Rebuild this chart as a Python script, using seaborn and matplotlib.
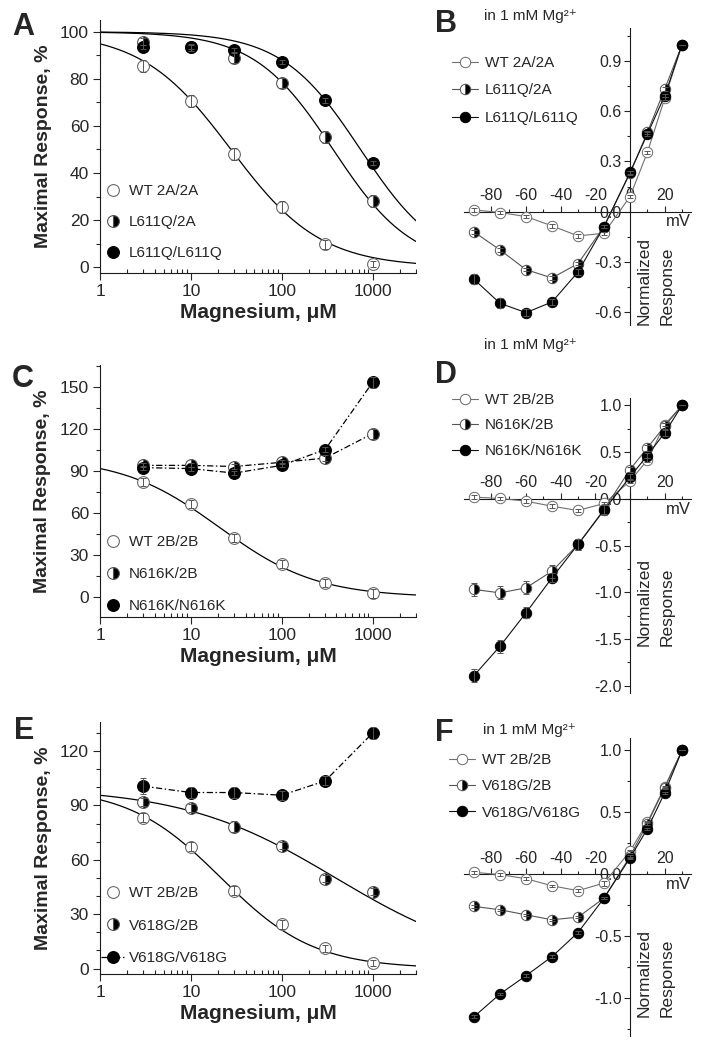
import numpy as np
import matplotlib
matplotlib.use("Agg")
import matplotlib.pyplot as plt
from matplotlib.ticker import MultipleLocator, LogLocator, NullFormatter, FormatStrFormatter
import seaborn as sns

# ---- values ----
mg_conc = [3, 10, 30, 100, 300, 1000]                     # Magnesium, uM
volt = [-90, -75, -60, -45, -30, -15, 0, 10, 20, 30]      # mV

# A: Mg block, GluN2A
a_labels = ["WT 2A/2A", "L611Q/2A", "L611Q/L611Q"]
a_wt = [85.4, 70.5, 48.2, 25.7, 9.7, 1.2]
a_het = [95.7, 93.5, 88.8, 78.3, 55.3, 28.0]
a_hom = [93.5, 93.5, 92.2, 87.2, 70.9, 44.3]
a_wt_err = [2.5, 2.5, 2.5, 2.5, 2.0, 1.2]
a_het_err = [1.5, 1.5, 2.0, 2.0, 2.5, 2.5]
a_hom_err = [1.0, 1.0, 1.0, 1.0, 1.0, 1.0]
a_ic50 = [27.6, 367, 735]
a_nh = [0.88, 1.0, 1.0]

# B: I-V in 1 mM Mg
b_wt = [0.01, -0.006, -0.03, -0.086, -0.146, -0.13, 0.09, 0.354, 0.678, 1.0]
b_het = [-0.122, -0.23, -0.348, -0.398, -0.312, -0.09, 0.23, 0.474, 0.734, 1.0]
b_hom = [-0.406, -0.55, -0.606, -0.542, -0.362, -0.09, 0.234, 0.464, 0.694, 1.0]
b_wt_err = [0.01, 0.01, 0.01, 0.01, 0.01, 0.01, 0.01, 0.01, 0.01, 0.0]
b_het_err = [0.01, 0.01, 0.01, 0.01, 0.01, 0.01, 0.01, 0.01, 0.01, 0.0]
b_hom_err = [0.03, 0.03, 0.02, 0.02, 0.02, 0.01, 0.01, 0.01, 0.01, 0.0]

# C: Mg block, GluN2B / N616K
c_labels = ["WT 2B/2B", "N616K/2B", "N616K/N616K"]
c_wt = [82.4, 66.9, 42.5, 23.9, 10.3, 2.9]
c_het = [94.3, 94.3, 93.5, 96.5, 99.5, 117.0]
c_hom = [92.7, 92.0, 88.8, 94.3, 105.6, 153.6]
c_wt_err = [3.0, 3.0, 3.0, 3.0, 3.0, 3.0]
c_het_err = [1.5, 1.5, 1.5, 1.5, 2.0, 3.5]
c_hom_err = [1.5, 1.5, 1.5, 1.5, 2.0, 4.0]
c_ic50 = [20.6]
c_nh = [0.81]

# D: I-V in 1 mM Mg
d_wt = [0.018, 0.004, -0.025, -0.079, -0.125, -0.05, 0.19, 0.414, 0.796, 1.0]
d_het = [-0.971, -1.007, -0.954, -0.775, -0.489, -0.114, 0.314, 0.546, 0.779, 1.0]
d_hom = [-1.893, -1.579, -1.221, -0.846, -0.489, -0.121, 0.236, 0.464, 0.707, 1.0]
d_wt_err = [0.02, 0.02, 0.02, 0.02, 0.02, 0.02, 0.02, 0.02, 0.02, 0.0]
d_het_err = [0.07, 0.07, 0.07, 0.07, 0.06, 0.05, 0.03, 0.03, 0.03, 0.0]
d_hom_err = [0.07, 0.07, 0.06, 0.05, 0.06, 0.05, 0.03, 0.03, 0.03, 0.0]

# E: Mg block, GluN2B / V618G
e_labels = ["WT 2B/2B", "V618G/2B", "V618G/V618G"]
e_wt = [83.3, 67.2, 42.9, 24.4, 11.2, 3.1]
e_het = [91.9, 88.6, 78.2, 67.7, 49.5, 42.4]
e_hom = [100.6, 97.1, 97.1, 95.6, 103.5, 129.9]
e_wt_err = [2.5, 2.5, 2.5, 2.5, 2.0, 1.5]
e_het_err = [2.0, 2.0, 3.0, 2.0, 2.0, 2.0]
e_hom_err = [4.5, 3.0, 3.0, 2.5, 2.5, 3.5]
e_ic50 = [21.5, 392]
e_nh = [0.85, 0.515]

# F: I-V in 1 mM Mg
f_wt = [0.014, -0.005, -0.038, -0.095, -0.135, -0.073, 0.184, 0.419, 0.705, 1.0]
f_het = [-0.262, -0.289, -0.33, -0.37, -0.349, -0.195, 0.143, 0.408, 0.697, 1.0]
f_hom = [-1.154, -0.97, -0.822, -0.668, -0.473, -0.195, 0.13, 0.365, 0.657, 1.0]
f_wt_err = [0.01, 0.01, 0.01, 0.01, 0.01, 0.02, 0.01, 0.01, 0.01, 0.0]
f_het_err = [0.01, 0.01, 0.01, 0.01, 0.01, 0.01, 0.01, 0.01, 0.01, 0.0]
f_hom_err = [0.01, 0.01, 0.01, 0.01, 0.01, 0.01, 0.01, 0.01, 0.01, 0.0]

# ---- style ----
sns.set_style("ticks")
plt.rcParams["font.family"] = ["Liberation Sans", "DejaVu Sans"]
plt.rcParams["axes.unicode_minus"] = False

W, H = 705, 1050
fig = plt.figure(figsize=(W / 100, H / 100), dpi=100)
DASHDOT = (0, (5, 2, 1.2, 2))


def rect(l, t, r, b):
    return [l / W, 1 - b / H, (r - l) / W, (b - t) / H]


def fpx(x, y):
    return (x / W, 1 - y / H)


def hill(x, ic50, nh):
    return 100.0 / (1.0 + (x / ic50) ** nh)


def marker_style(k):
    if k == 0:
        return dict(marker="o", markerfacecolor="white", markeredgecolor="#6a6a6a")
    if k == 1:
        return dict(marker="o", fillstyle="right", markerfacecolor="black",
                    markerfacecoloralt="white", markeredgecolor="#555555")
    return dict(marker="o", markerfacecolor="black", markeredgecolor="black")


def style_spines(ax):
    for s in ax.spines.values():
        s.set_linewidth(0.8)
        s.set_color("#1a1a1a")


def dose_panel(ax, ys, errs, labels, ic50s, nhs, dashdot, ylim, ystep, yminor,
               leg_xy, leg_space, dash_in_legend=False):
    ax.set_xscale("log")
    xfit = np.logspace(0, np.log10(3000), 400)
    for ic50, nh in zip(ic50s, nhs):
        sns.lineplot(x=xfit, y=hill(xfit, ic50, nh), ax=ax, color="black",
                     linewidth=0.9, zorder=1)
    for k, (y, e) in enumerate(zip(ys, errs)):
        line_kw = dict(linestyle="none")
        if k in dashdot:
            if dash_in_legend:
                line_kw = dict(linestyle=DASHDOT, color="black", linewidth=0.9)
            else:
                sns.lineplot(x=mg_conc, y=y, ax=ax, color="black", linewidth=0.9,
                             linestyle=DASHDOT, zorder=1)
        ax.errorbar(mg_conc, y, yerr=e, fmt="none", ecolor="#555555", elinewidth=0.7,
                    capsize=2.5, capthick=0.7, zorder=4)
        sns.lineplot(x=mg_conc, y=y, ax=ax, label=labels[k], markersize=8.5,
                     markeredgewidth=0.8, zorder=3, clip_on=False,
                     **line_kw, **marker_style(k))

    ax.set_xlim(1, 3000)
    ax.set_ylim(*ylim)
    ax.set_xticks([1, 10, 100, 1000], ["1", "10", "100", "1000"])
    ax.xaxis.set_minor_locator(LogLocator(base=10, subs=range(2, 10), numticks=20))
    ax.xaxis.set_minor_formatter(NullFormatter())
    ax.yaxis.set_major_locator(MultipleLocator(ystep))
    ax.yaxis.set_minor_locator(MultipleLocator(yminor))
    ax.tick_params(axis="both", which="major", length=5, width=0.8, labelsize=12.5,
                   direction="out", pad=3)
    ax.tick_params(axis="y", which="minor", length=3, width=0.8, direction="out")
    ax.tick_params(axis="x", which="minor", length=3, width=0.8, direction="in")
    sns.despine(ax=ax)
    style_spines(ax)
    ax.set_ylabel("Maximal Response, %", fontsize=14, fontweight="bold", labelpad=6)
    ax.set_xlabel("Magnesium, \u03bcM", fontsize=15, fontweight="bold", labelpad=3)

    h, l = ax.get_legend_handles_labels()
    ax.legend(h, l, loc="lower left", bbox_to_anchor=fpx(*leg_xy),
              bbox_transform=fig.transFigure, frameon=False, fontsize=11,
              handlelength=1.6, handletextpad=0.2, labelspacing=leg_space,
              borderpad=0, borderaxespad=0, numpoints=1)


def iv_panel(ax, ys, errs, labels, ylim, yticks, yminor, norm_y, leg_xy, leg_space, title_xy):
    line_colors = ["#707070", "#555555", "#111111"]
    for k, (y, e) in enumerate(zip(ys, errs)):
        ax.errorbar(volt, y, yerr=e, fmt="none", ecolor="#555555", elinewidth=0.7,
                    capsize=2, capthick=0.7, zorder=4, clip_on=False)
        sns.lineplot(x=volt, y=y, ax=ax, color=line_colors[k], linewidth=0.8,
                     label=labels[k], markersize=7.5, markeredgewidth=0.7, zorder=3,
                     clip_on=False, **marker_style(k))

    ax.set_xlim(-96, 35)
    ax.set_ylim(*ylim)
    ax.spines["left"].set_position(("data", 0))
    ax.spines["top"].set_position(("data", 0))
    ax.spines["right"].set_visible(False)
    ax.spines["bottom"].set_visible(False)
    ax.xaxis.set_ticks_position("top")
    ax.yaxis.set_ticks_position("left")
    ax.set_xticks([-80, -60, -40, -20, 0, 20])
    ax.xaxis.set_minor_locator(MultipleLocator(10))
    ax.set_yticks(yticks)
    ax.yaxis.set_minor_locator(MultipleLocator(yminor))
    ax.yaxis.set_major_formatter(FormatStrFormatter("%.1f"))
    ax.tick_params(axis="both", which="major", length=4, width=0.8, labelsize=11.5,
                   direction="out", pad=2)
    ax.tick_params(axis="both", which="minor", length=2.5, width=0.8, direction="out")
    style_spines(ax)
    ax.set_xlabel("")
    ax.set_ylabel("")

    ax.annotate("mV", xy=(35, 0), xytext=(0, -2), textcoords="offset points",
                ha="right", va="top", fontsize=12)
    ax.text(4, norm_y, "Normalized\nResponse", rotation=90, ha="left", va="bottom",
            fontsize=12.5, linespacing=1.6)
    fig.text(*fpx(*title_xy), "in 1 mM Mg\u00b2\u207a", fontsize=11, ha="left", va="center")

    h, l = ax.get_legend_handles_labels()
    ax.legend(h, l, loc="upper left", bbox_to_anchor=fpx(*leg_xy),
              bbox_transform=fig.transFigure, frameon=False, fontsize=11,
              handlelength=1.7, handletextpad=0.45, labelspacing=leg_space,
              borderpad=0, borderaxespad=0, numpoints=1)


ax_a = fig.add_axes(rect(100, 20, 416, 273))
ax_b = fig.add_axes(rect(463.6, 28, 690.7, 325))
ax_c = fig.add_axes(rect(100, 365, 416, 617))
ax_d = fig.add_axes(rect(463.6, 398, 690.7, 693))
ax_e = fig.add_axes(rect(100, 722, 416, 974))
ax_f = fig.add_axes(rect(463.6, 738, 690.7, 1036))

dose_panel(ax_a, [a_wt, a_het, a_hom], [a_wt_err, a_het_err, a_hom_err], a_labels,
           a_ic50, a_nh, [], (-2.5, 105), 20, 10, (101, 260), 1.1)
dose_panel(ax_c, [c_wt, c_het, c_hom], [c_wt_err, c_het_err, c_hom_err], c_labels,
           c_ic50, c_nh, [1, 2], (-14, 166), 30, 15, (101, 613), 1.17)
dose_panel(ax_e, [e_wt, e_het, e_hom], [e_wt_err, e_het_err, e_hom_err], e_labels,
           e_ic50, e_nh, [2], (-3, 136), 30, 10, (101, 965), 1.2, dash_in_legend=True)

iv_panel(ax_b, [b_wt, b_het, b_hom], [b_wt_err, b_het_err, b_hom_err], a_labels,
         (-0.68, 1.10), [-0.6, -0.3, 0.0, 0.3, 0.6, 0.9], 0.15, -0.68,
         (452, 56), 0.88, (484, 16))
iv_panel(ax_d, [d_wt, d_het, d_hom], [d_wt_err, d_het_err, d_hom_err], c_labels,
         (-2.08, 1.08), [-2.0, -1.5, -1.0, -0.5, 0.0, 0.5, 1.0], 0.25, -1.58,
         (452, 393), 0.75, (484, 345))
iv_panel(ax_f, [f_wt, f_het, f_hom], [f_wt_err, f_het_err, f_hom_err], e_labels,
         (-1.31, 1.10), [-1.0, -0.5, 0.0, 0.5, 1.0], 0.25, -1.16,
         (449, 753), 0.81, (483, 730))

for letter, (x, y) in zip("ABCDEF", [(12, 27), (435, 24), (12, 379), (435, 375),
                                       (14, 731), (435, 733)]):
    fig.text(*fpx(x, y), letter, fontsize=22, fontweight="bold", ha="left", va="center")

fig.savefig("out.png", dpi=100)
